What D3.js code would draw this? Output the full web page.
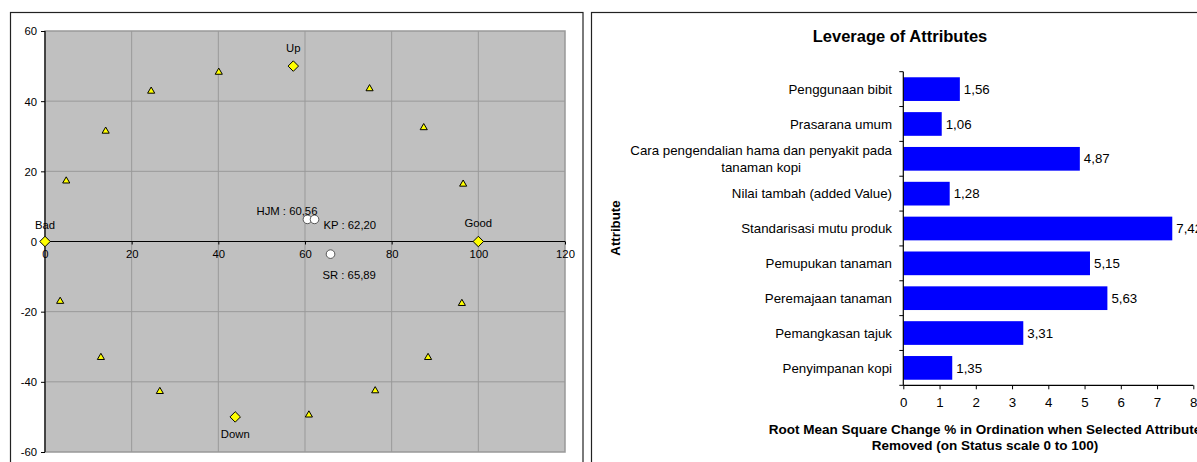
<!DOCTYPE html>
<html>
<head>
<meta charset="utf-8">
<script src="https://cdn.jsdelivr.net/npm/d3@7"></script>
<style>
  html, body { margin: 0; padding: 0; background: #fff; }
  svg { display: block; font-family: "Liberation Sans", Arial, sans-serif; }
</style>
</head>
<body>
<svg id="chart" width="1197" height="462"></svg>
<script>
// ---------- Left chart data (RAP ordination) ----------
const refX = [4.9, 14.0, 24.5, 40.1, 74.9, 87.4, 96.5, 3.5, 12.9, 26.5, 60.9, 76.2, 88.4, 96.2];
const refY = [17.4, 31.6, 43.0, 48.4, 43.7, 32.6, 16.5, -16.9, -32.9, -42.6, -49.3, -42.4, -32.9, -17.5];
const anchorNames = ["Bad", "Good", "Up", "Down"];
const anchorX = [0, 100, 57.3, 43.9];
const anchorY = [0, 0, 50, -50];
const statusNames = ["HJM", "KP", "SR"];
const statusX = [60.56, 62.20, 65.89];
const statusY = [6.3, 6.3, -3.6];
const xTicksL = [0, 20, 40, 60, 80, 100, 120];
const yTicksL = [-60, -40, -20, 0, 20, 40, 60];

// ---------- Right chart data (leverage) ----------
const attributes = [
  "Penggunaan bibit",
  "Prasarana umum",
  "Cara pengendalian hama dan penyakit pada|tanaman kopi",
  "Nilai tambah (added Value)",
  "Standarisasi mutu produk",
  "Pemupukan tanaman",
  "Peremajaan tanaman",
  "Pemangkasan tajuk",
  "Penyimpanan kopi"
];
const leverage = [1.56, 1.06, 4.87, 1.28, 7.42, 5.15, 5.63, 3.31, 1.35];
const xTicksR = [0, 1, 2, 3, 4, 5, 6, 7, 8];
const chartTitle = "Leverage of Attributes";
const yTitle = "Attribute";
const xTitleLines = ["Root Mean Square Change % in Ordination when Selected Attribute", "Removed (on Status scale 0 to 100)"];

const fmt = v => d3.format(".2f")(v).replace(".", ",");
const svg = d3.select("#chart");

// ================= LEFT CHART =================
svg.append("rect").attr("x", 10.5).attr("y", 12.5).attr("width", 572.5).attr("height", 460)
  .attr("fill", "#fff").attr("stroke", "#222").attr("stroke-width", 1.2);

const xL = d3.scaleLinear().domain([0, 120]).range([45, 565]);
const yL = d3.scaleLinear().domain([-60, 60]).range([452, 31]);

const L = svg.append("g");
L.append("rect").attr("x", xL(0)).attr("y", yL(60)).attr("width", xL(120) - xL(0)).attr("height", yL(-60) - yL(60))
  .attr("fill", "#c0c0c0").attr("stroke", "#999").attr("stroke-width", 1.5);

// gridlines
L.append("g").selectAll("line").data(xTicksL.filter(d => d > 0 && d < 120)).join("line")
  .attr("x1", d => xL(d)).attr("x2", d => xL(d)).attr("y1", yL(60)).attr("y2", yL(-60))
  .attr("stroke", "#999").attr("stroke-width", 1);
L.append("g").selectAll("line").data(yTicksL.filter(d => d > -60 && d < 60 && d !== 0)).join("line")
  .attr("x1", xL(0)).attr("x2", xL(120)).attr("y1", d => yL(d)).attr("y2", d => yL(d))
  .attr("stroke", "#999").attr("stroke-width", 1);

// axes
const yAxisL = L.append("g").attr("transform", `translate(${xL(0)},0)`)
  .call(d3.axisLeft(yL).tickValues(yTicksL).tickSize(4).tickPadding(4).tickFormat(d => String(d)));
const xAxisL = L.append("g").attr("transform", `translate(0,${yL(0)})`)
  .call(d3.axisBottom(xL).tickValues(xTicksL).tickSize(3).tickPadding(5).tickFormat(d => String(d)));
[yAxisL, xAxisL].forEach(a => {
  a.select(".domain").attr("stroke", "#000").attr("stroke-width", 1.2);
  a.selectAll(".tick line").attr("stroke", "#000");
  a.selectAll(".tick text").attr("font-size", 11.3).attr("fill", "#000")
    .attr("font-family", "Liberation Sans, Arial, sans-serif");
});
xAxisL.select(".domain").attr("d", `M${xL(0)},0H${xL(120)}`);
yAxisL.select(".domain").attr("d", `M0,${yL(-60)}V${yL(60)}`);
yAxisL.selectAll(".tick text").attr("dy", "0.35em");

// reference triangles
const tri = d3.symbol().type(d3.symbolTriangle).size(22);
L.append("g").selectAll("path").data(refX.map((x, i) => [x, refY[i]])).join("path")
  .attr("d", tri).attr("transform", d => `translate(${xL(d[0])},${yL(d[1]) + 0.5})`)
  .attr("fill", "#ffff00").attr("stroke", "#000").attr("stroke-width", 1);

// anchors (diamonds)
const dia = d3.symbol().type(d3.symbolDiamond2).size(70);
const anchors = anchorNames.map((n, i) => ({ n, x: anchorX[i], y: anchorY[i] }));
L.append("g").selectAll("path").data(anchors).join("path")
  .attr("d", dia).attr("transform", d => `translate(${xL(d.x)},${yL(d.y)})`)
  .attr("fill", "#ffff00").attr("stroke", "#000").attr("stroke-width", 1);
const anchorOffset = { Bad: -13, Good: -15, Up: -14, Down: 21 };
L.append("g").selectAll("text").data(anchors).join("text")
  .attr("x", d => xL(d.x)).attr("y", d => yL(d.y) + anchorOffset[d.n])
  .attr("text-anchor", "middle").attr("font-size", 11.3).attr("fill", "#000").text(d => d.n);

// status points (circles)
const stats = statusNames.map((n, i) => ({ n, x: statusX[i], y: statusY[i] }));
L.append("g").selectAll("circle").data(stats).join("circle")
  .attr("cx", d => xL(d.x)).attr("cy", d => yL(d.y)).attr("r", 4.3)
  .attr("fill", "#fff").attr("stroke", "#333").attr("stroke-width", 0.8);
const statLab = {
  HJM: { dx: 10, dy: -4, anchor: "end" },
  KP: { dx: 9, dy: 10, anchor: "start" },
  SR: { dx: -8, dy: 25, anchor: "start" }
};
L.append("g").selectAll("text").data(stats).join("text")
  .attr("x", d => xL(d.x) + statLab[d.n].dx).attr("y", d => yL(d.y) + statLab[d.n].dy)
  .attr("text-anchor", d => statLab[d.n].anchor).attr("font-size", 11.3).attr("fill", "#000")
  .text(d => `${d.n} : ${fmt(d.x)}`);

// ================= RIGHT CHART =================
svg.append("rect").attr("x", 591.5).attr("y", 12.5).attr("width", 700).attr("height", 460)
  .attr("fill", "#fff").attr("stroke", "#222").attr("stroke-width", 1.2);

const R = svg.append("g");
const xR = d3.scaleLinear().domain([0, 8]).range([903.3, 1193.3]);
const yR = d3.scaleBand().domain(attributes).range([71.7, 385.3]).paddingInner(0.32).paddingOuter(0.16);

R.append("text").attr("x", 900).attr("y", 42).attr("text-anchor", "middle")
  .attr("font-size", 16.5).attr("font-weight", "bold").attr("fill", "#000").text(chartTitle);

R.append("g").selectAll("rect").data(attributes).join("rect")
  .attr("x", xR(0)).attr("y", d => yR(d)).attr("width", (d, i) => xR(leverage[i]) - xR(0))
  .attr("height", yR.bandwidth()).attr("fill", "#0000ff");

R.append("g").selectAll("text").data(attributes).join("text")
  .attr("x", (d, i) => xR(leverage[i]) + 4).attr("y", d => yR(d) + yR.bandwidth() / 2)
  .attr("dy", "0.35em").attr("font-size", 13.3).attr("fill", "#000")
  .text((d, i) => fmt(leverage[i]));

// y axis line + boundary ticks
const step = yR.step();
const bounds = attributes.map(d => yR(d) - step * yR.paddingInner() / 2).concat([yR.range()[1]]);
bounds[0] = yR.range()[0];
R.append("line").attr("x1", xR(0)).attr("x2", xR(0)).attr("y1", yR.range()[0]).attr("y2", yR.range()[1])
  .attr("stroke", "#000").attr("stroke-width", 1.2);
R.append("g").selectAll("line").data(bounds).join("line")
  .attr("x1", xR(0) - 4).attr("x2", xR(0)).attr("y1", d => d).attr("y2", d => d)
  .attr("stroke", "#000");

// category labels
const catG = R.append("g");
attributes.forEach(a => {
  const lines = a.split("|");
  const cy = yR(a) + yR.bandwidth() / 2;
  if (lines.length === 1) {
    catG.append("text").attr("x", 892).attr("y", cy).attr("dy", "0.35em")
      .attr("text-anchor", "end").attr("font-size", 13.3).attr("fill", "#000").text(lines[0]);
  } else {
    const t1 = catG.append("text").attr("x", 892).attr("y", cy - 8).attr("dy", "0.35em")
      .attr("text-anchor", "end").attr("font-size", 13.3).attr("fill", "#000").text(lines[0]);
    const w = t1.node().getComputedTextLength();
    catG.append("text").attr("x", 892 - w / 2).attr("y", cy + 9).attr("dy", "0.35em")
      .attr("text-anchor", "middle").attr("font-size", 13.3).attr("fill", "#000").text(lines[1]);
  }
});

// x axis
const xAxisR = R.append("g").attr("transform", `translate(0,${yR.range()[1]})`)
  .call(d3.axisBottom(xR).tickValues(xTicksR).tickSize(4).tickPadding(8).tickFormat(d => String(d)));
xAxisR.select(".domain").attr("d", `M${xR(0)},0H${xR(8)}`).attr("stroke", "#000").attr("stroke-width", 1.2);
xAxisR.selectAll(".tick line").attr("stroke", "#000");
xAxisR.selectAll(".tick text").attr("font-size", 13.3).attr("fill", "#000")
  .attr("font-family", "Liberation Sans, Arial, sans-serif");

// axis titles
R.append("text").attr("transform", "translate(620,228) rotate(-90)").attr("text-anchor", "middle")
  .attr("font-size", 13.3).attr("font-weight", "bold").attr("fill", "#000").text(yTitle);
R.append("g").selectAll("text").data(xTitleLines).join("text")
  .attr("x", 985).attr("y", (d, i) => 434 + i * 16).attr("text-anchor", "middle")
  .attr("font-size", 13.5).attr("font-weight", "bold").attr("fill", "#000").text(d => d);
</script>
</body>
</html>
